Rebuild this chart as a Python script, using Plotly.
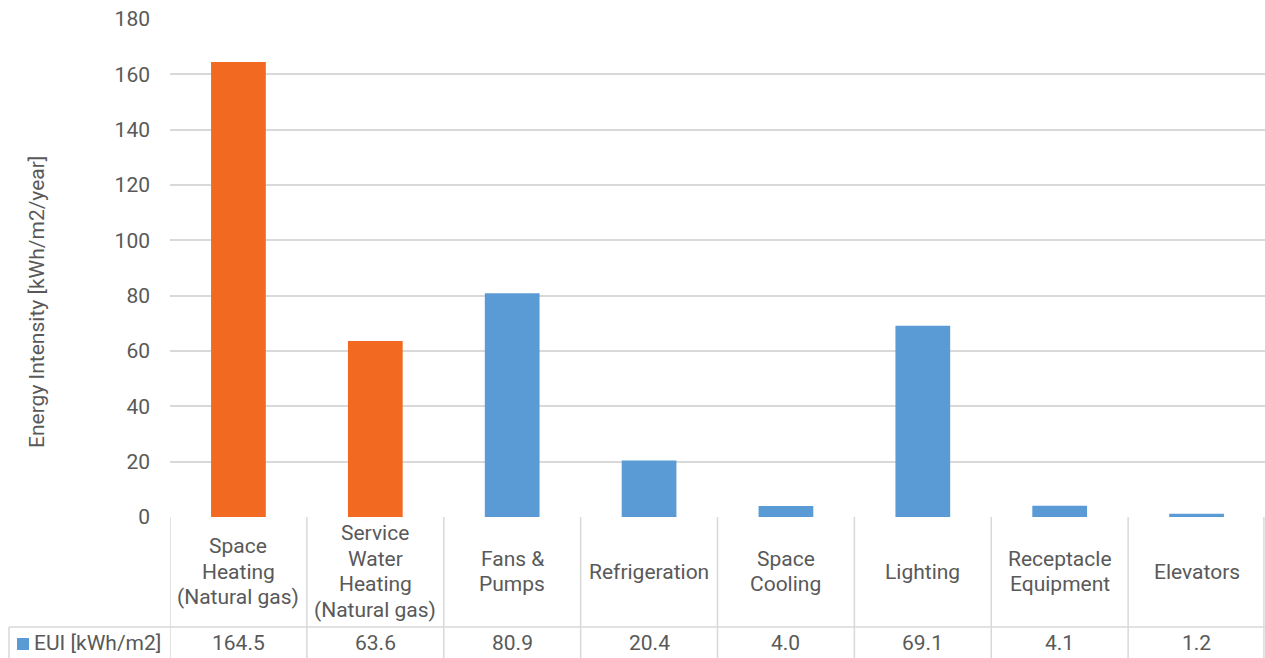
import plotly.graph_objects as go

# End-use categories and their energy use intensity
categories = [
    "Space<br>Heating<br>(Natural gas)",
    "Service<br>Water<br>Heating<br>(Natural gas)",
    "Fans &<br>Pumps",
    "Refrigeration",
    "Space<br>Cooling",
    "Lighting",
    "Receptacle<br>Equipment",
    "Elevators",
]
eui_values = [164.5, 63.6, 80.9, 20.4, 4.0, 69.1, 4.1, 1.2]
value_labels = ["164.5", "63.6", "80.9", "20.4", "4.0", "69.1", "4.1", "1.2"]
fuel_types = ["gas", "gas", "elec", "elec", "elec", "elec", "elec", "elec"]
y_ticks = [0, 20, 40, 60, 80, 100, 120, 140, 160, 180]

ORANGE = "#F26922"
BLUE = "#5B9BD5"
GRID = "#D9D9D9"
TEXT = "#595959"
FONT = "Roboto"
FS = 21

W, H = 1265, 658
L, R, T, B = 170, 0, 19, 141
plot_w = W - L - R
plot_h = H - T - B


def py(pix):
    """Pixel row -> paper y."""
    return (H - B - pix) / plot_h


def px(pix):
    """Pixel column -> paper x."""
    return (pix - L) / plot_w


n = len(categories)
xs = list(range(n))
colors = [ORANGE if f == "gas" else BLUE for f in fuel_types]

fig = go.Figure(
    go.Bar(
        x=xs,
        y=eui_values,
        width=0.4,
        marker=dict(color=colors, line=dict(width=0)),
        name="EUI [kWh/m2]",
        showlegend=False,
    )
)

shapes = []
annotations = []

header_bottom = py(627)
table_bottom = py(H + 5)

# Vertical cell borders of the data table
for k in range(n + 1):
    xv = k - 0.5
    if k == n:
        xv = n - 0.5 - 0.008
    shapes.append(dict(type="line", xref="x", yref="paper", x0=xv, x1=xv,
                       y0=0, y1=table_bottom, line=dict(color=GRID, width=1.5)))
# Row separator and left cell of the data row
shapes.append(dict(type="line", xref="paper", yref="paper", x0=px(9), x1=1,
                   y0=header_bottom, y1=header_bottom, line=dict(color=GRID, width=1.5)))
shapes.append(dict(type="line", xref="paper", yref="paper", x0=px(9), x1=px(9),
                   y0=header_bottom, y1=table_bottom, line=dict(color=GRID, width=1.5)))
# Legend key inside the table
shapes.append(dict(type="rect", xref="paper", yref="paper", x0=px(17), x1=px(29),
                   y0=py(650), y1=py(638), fillcolor=BLUE, line=dict(width=0)))

# Category header cells: lines stacked with a fixed leading, centred in the cell
line_gap = 25.7
header_mid = 571.5
for i, (cat, lab) in enumerate(zip(categories, value_labels)):
    lines = cat.split("<br>")
    first = header_mid - line_gap * (len(lines) - 1) / 2
    for j, ln in enumerate(lines):
        annotations.append(dict(x=i, y=py(first + j * line_gap), xref="x", yref="paper",
                                text=ln, showarrow=False, xanchor="center",
                                yanchor="middle",
                                font=dict(family=FONT, size=FS, color=TEXT)))
    annotations.append(dict(x=i, y=py(643), xref="x", yref="paper", text=lab,
                            showarrow=False, xanchor="center", yanchor="middle",
                            font=dict(family=FONT, size=FS, color=TEXT)))

annotations.append(dict(x=px(32), y=py(643), xref="paper", yref="paper",
                        text="EUI [kWh/m2]", showarrow=False, xanchor="left",
                        yanchor="middle", font=dict(family=FONT, size=FS, color=TEXT)))
annotations.append(dict(x=px(37), y=py(302), xref="paper", yref="paper",
                        text="Energy Intensity [kWh/m2/year]", textangle=-90,
                        showarrow=False, xanchor="center", yanchor="middle",
                        font=dict(family=FONT, size=FS, color=TEXT)))

fig.update_layout(
    width=W,
    height=H,
    margin=dict(l=L, r=R, t=T, b=B, pad=0),
    paper_bgcolor="white",
    plot_bgcolor="white",
    font=dict(family=FONT, size=FS, color=TEXT),
    xaxis=dict(range=[-0.5, n - 0.5], showticklabels=False, showgrid=False,
               zeroline=False, showline=False, ticks=""),
    yaxis=dict(range=[0, 180], tickvals=y_ticks, showgrid=True, gridcolor=GRID,
               gridwidth=1.5, zeroline=False, showline=False, ticks="",
               ticklabelstandoff=19, tickfont=dict(family=FONT, size=FS, color=TEXT)),
    shapes=shapes,
    annotations=annotations,
    bargap=0.6,
)

fig.write_html("out.html")
